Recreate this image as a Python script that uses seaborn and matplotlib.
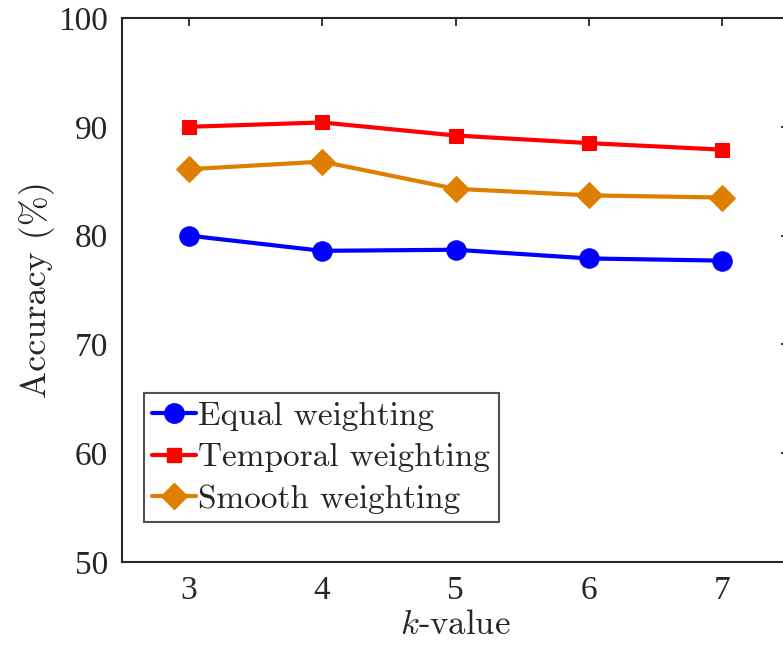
import matplotlib
matplotlib.use("Agg")
import matplotlib.pyplot as plt
import seaborn as sns
import pandas as pd
from matplotlib.lines import Line2D

k_values = [3, 4, 5, 6, 7]
equal = [80.0, 78.6, 78.7, 77.9, 77.7]
temporal = [90.0, 90.4, 89.2, 88.5, 87.9]
smooth = [86.1, 86.8, 84.3, 83.7, 83.5]
series_names = ["Equal weighting", "Temporal weighting", "Smooth weighting"]
y_ticks = [50, 60, 70, 80, 90, 100]

sns.set_style("white")
plt.rcParams["font.family"] = ["Liberation Serif", "DejaVu Serif"]
plt.rcParams["mathtext.fontset"] = "cm"
plt.rcParams["axes.unicode_minus"] = False

fig = plt.figure(figsize=(7.83, 6.47), dpi=100)
ax = fig.add_axes([122 / 783, 1 - 562 / 647, 667 / 783, 544 / 647])

colors = ["#0000FF", "#FF0000", "#DE7F00"]
markers = ["o", "s", "D"]
msizes = [14, 10, 13]
data = [equal, temporal, smooth]

for name, vals, c, m, ms in zip(series_names, data, colors, markers, msizes):
    df = pd.DataFrame({"k": k_values, "acc": vals})
    sns.lineplot(data=df, x="k", y="acc", ax=ax, color=c, marker=m,
                 markersize=ms, markeredgecolor=c, linewidth=3, label=None)

ax.set_xlim(2.5, 7.5)
ax.set_ylim(50, 100)
ax.set_xticks(k_values)
ax.set_yticks(y_ticks)
ax.tick_params(direction="in", length=6, width=1.3, labelsize=24, color="#262626",
               top=True, right=True, pad=10)
for s in ax.spines.values():
    s.set_linewidth(1.5)
    s.set_color("#262626")

ax.set_xlabel(r"$k$-value", fontsize=25, color="#262626", labelpad=2,
              family="cmr10")
ax.set_ylabel("Accuracy (%)", fontsize=26, color="#262626", labelpad=2,
              family="cmr10")
for lab in ax.get_xticklabels() + ax.get_yticklabels():
    lab.set_color("#262626")

handles = [Line2D([0], [0], color=c, marker=m, markersize=ms, linewidth=3)
           for c, m, ms in zip(colors, markers, msizes)]
leg = ax.legend(handles, series_names, loc="lower left",
                bbox_to_anchor=(0.033, 0.0735), borderaxespad=0,
                prop={"family": "cmr10", "size": 24}, handlelength=1.3,
                handletextpad=0.08, labelspacing=0.36, borderpad=0.25,
                frameon=True, fancybox=False, edgecolor="#262626")
leg.get_frame().set_linewidth(1.5)

fig.savefig("out.png", dpi=100, facecolor="white")
